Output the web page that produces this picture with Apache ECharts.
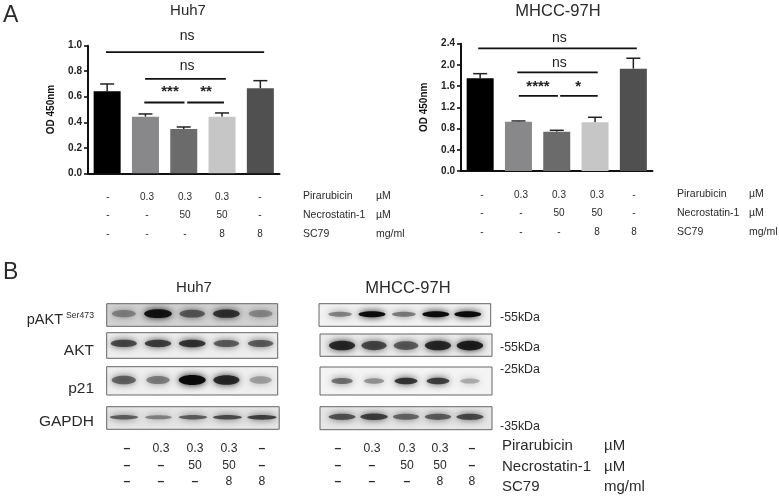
<!DOCTYPE html>
<html><head><meta charset="utf-8">
<style>html,body{margin:0;padding:0;background:#fff}#c{width:779px;height:497px;filter:blur(0.35px)}</style>
<script src="https://cdn.jsdelivr.net/npm/echarts@6/dist/echarts.min.js"></script>
</head><body><div id="c"></div>
<script>
// ---- data ----
const groups = ['Control','Pirarubicin','Pirarubicin+Nec-1','Pirarubicin+Nec-1+SC79','SC79'];
const huhMeans = [0.643,0.444,0.347,0.444,0.666];
const huhErrTop = [0.70,0.465,0.363,0.473,0.726];
const mhccMeans = [1.75,0.93,0.74,0.92,1.93];
const mhccErrTop = [1.835,0.943,0.767,1.013,2.126];
const barColors = ['#000000','#88888b','#6b6b6b','#c6c6c6','#505050'];
// significance brackets: [from group, to group, level]
const huhBrackets = [[-0.03,4.1,0.95],[0.99,3.1,0.74],[0.97,2.02,0.555],[2.09,3.05,0.555]];
const mhccBrackets = [[-0.05,4.09,2.31],[0.97,3.07,1.86],[1.01,2.03,1.415],[2.09,3.07,1.415]];
// significance text: [group position, level, text]
const huhSig = [[2.09,1.076,'ns'],[2.09,0.84,'ns'],[1.64,0.635,'***'],[2.58,0.635,'**']];
const mhccSig = [[2.07,2.51,'ns'],[2.07,2.04,'ns'],[1.51,1.58,'****'],[2.56,1.58,'*']];
const rowPirarubicin = ['-','0.3','0.3','0.3','-'];
const rowNecrostatin = ['-','-','50','50','-'];
const rowSC79 = ['-','-','-','8','8'];
const treatNames = ['Pirarubicin','Necrostatin-1','SC79'];
const treatUnits = ['µM','µM','mg/ml'];
const huhBlotPAKT = [0.35,0.95,0.6,0.8,0.3];
const huhBlotAKT = [0.7,0.75,0.8,0.6,0.6];
const huhBlotP21 = [0.55,0.4,1,0.85,0.2];
const huhBlotGAPDH = [0.6,0.4,0.6,0.7,0.75];
const mhccBlotPAKT = [0.4,1,0.45,1,1];
const mhccBlotAKT = [0.85,0.7,0.6,0.85,0.9];
const mhccBlotP21 = [0.5,0.3,0.8,0.75,0.15];
const mhccBlotGAPDH = [0.65,0.75,0.55,0.6,0.7];
const blotLabels = ['AKT','p21','GAPDH'];
const kdaLabels = ['-55kDa','-55kDa','-25kDa','-35kDa'];

// ---- assembly ----
const FONT = '"Liberation Sans", Arial, sans-serif';
const INK = '#2a2a2a';
const grid = [], xAxis = [], yAxis = [], series = [], graphic = [];

function txt(x, y, text, size, opt) {
  opt = opt || {};
  graphic.push({type:'text', x, y, silent:true, style:{
    text, fill: opt.fill || INK,
    font: (opt.weight ? opt.weight + ' ' : '') + size + 'px ' + FONT,
    textAlign: opt.align || 'center', textVerticalAlign:'middle',
    align: opt.align || 'center', verticalAlign:'middle'
  }});
}

function barPanel(left, top, height, maxV, step, means, errs, brackets, sig) {
  const g = grid.length;
  grid.push({left, top, width:191.5, height});
  xAxis.push({gridIndex:g, type:'category', data:groups, axisLabel:{show:false},
    axisTick:{alignWithLabel:true, length:5, lineStyle:{color:'#111', width:1.6}},
    axisLine:{onZero:false, lineStyle:{color:'#111', width:2}}});
  xAxis.push({gridIndex:g, type:'value', min:-0.5, max:4.5, show:false});
  yAxis.push({gridIndex:g, type:'value', min:0, max:maxV, interval:step, name:'OD 450nm',
    nameLocation:'middle', nameGap:32, nameRotate:90,
    nameTextStyle:{fontFamily:FONT, fontWeight:'bold', fontSize:10, color:'#111'},
    splitLine:{show:false},
    axisLine:{show:true, onZero:false, lineStyle:{color:'#111', width:2}},
    axisTick:{show:true, length:4, lineStyle:{color:'#111', width:1.6}},
    axisLabel:{fontFamily:FONT, fontWeight:'bold', fontSize:10, color:'#222', margin:6,
      formatter:v=>v.toFixed(1)}});
  const xCat = xAxis.length-2, xVal = xAxis.length-1, y = yAxis.length-1;
  series.push({type:'bar', xAxisIndex:xCat, yAxisIndex:y, barWidth:27, silent:true,
    data:means.map((v,i)=>({value:v, itemStyle:{color:barColors[i]}}))});
  series.push({type:'custom', xAxisIndex:xCat, yAxisIndex:y, silent:true, z:1,
    data:means.map((v,i)=>[i,v,errs[i]]),
    encode:{x:0,y:[1,2]},
    renderItem:(p,api)=>{
      const a = api.coord([api.value(0),api.value(1)]), b = api.coord([api.value(0),api.value(2)]);
      const s = {stroke:'#222', lineWidth:1.5};
      return {type:'group',children:[
        {type:'line',shape:{x1:a[0],y1:a[1],x2:b[0],y2:b[1]},style:s},
        {type:'line',shape:{x1:b[0]-7,y1:b[1],x2:b[0]+7,y2:b[1]},style:s}]};
    }});
  series.push({type:'custom', xAxisIndex:xVal, yAxisIndex:y, silent:true, z:3,
    data:brackets, encode:{x:[0,1],y:2},
    renderItem:(p,api)=>{
      const a = api.coord([api.value(0),api.value(2)]), b = api.coord([api.value(1),api.value(2)]);
      return {type:'line',shape:{x1:a[0],y1:a[1],x2:b[0],y2:b[1]},style:{stroke:'#111',lineWidth:1.8}};
    }});
  series.push({type:'custom', xAxisIndex:xVal, yAxisIndex:y, silent:true, z:3,
    data:sig, encode:{x:0,y:1},
    renderItem:(p,api)=>{
      const a = api.coord([api.value(0),api.value(1)]);
      const t = sig[p.dataIndex][2];
      return {type:'text',x:a[0],y:a[1],style:{text:t,fill:'#222',
        font:(t==='ns'?'14px ':'bold 15px ')+FONT,align:'center',verticalAlign:'middle',
        textAlign:'center',textVerticalAlign:'middle'}};
    }});
}

function blot(left, top, w, h, xMin, xMax, levels, yPos, bandH, bandW, bg) {
  const g = grid.length;
  grid.push({left, top, width:w, height:h, show:true, backgroundColor:bg, borderColor:'#666', borderWidth:1});
  xAxis.push({gridIndex:g, type:'value', min:xMin, max:xMax, show:false});
  yAxis.push({gridIndex:g, type:'value', min:0, max:1, show:false});
  series.push({type:'custom', xAxisIndex:xAxis.length-1, yAxisIndex:yAxis.length-1, silent:true, clip:true,
    data:levels.map((v,i)=>[i,v]), encode:{x:0,y:1},
    renderItem:(p,api)=>{
      const lvl = api.value(1), c = api.coord([api.value(0), yPos]);
      const shade = Math.round(125 - 120*lvl);
      const col = 'rgb('+shade+','+shade+','+shade+')';
      const rx = bandW*(0.78+0.22*lvl)/2, ry = bandH*(0.7+0.3*lvl)/2;
      return {type:'ellipse',shape:{cx:c[0],cy:c[1],rx:rx,ry:ry},
        style:{fill:col,opacity:0.35+0.6*lvl,shadowBlur:7,shadowColor:col}};
    }});
}

barPanel(88, 45.7, 127.6, 1.0, 0.2, huhMeans, huhErrTop, huhBrackets, huhSig);
barPanel(461, 43.7, 127.3, 2.4, 0.4, mhccMeans, mhccErrTop, mhccBrackets, mhccSig);

const H = [303.7,332.7,366.7,406.7], HH = [22.6,25.6,28.3,22.6];
blot(106.7,H[0],171,HH[0],-0.5,4.5,huhBlotPAKT,0.56,9,28,'#d2d2d2');
blot(106.7,H[1],171,HH[1],-0.5,4.5,huhBlotAKT,0.58,8,28,'#eeeeee');
blot(106.7,H[2],171,HH[2],-0.5,4.5,huhBlotP21,0.53,10,27,'#efefef');
blot(106.7,H[3],172.5,HH[3],-0.5,4.5,huhBlotGAPDH,0.53,5,31,'#e6e6e6');
blot(319,303.7,171.7,22.6,-0.66,4.72,mhccBlotPAKT,0.53,6,27,'#f2f2f2');
blot(320,334,172,22.3,-0.69,4.69,mhccBlotAKT,0.48,10,27,'#ececec');
blot(320,367,172,28,-0.69,4.69,mhccBlotP21,0.5,7,24,'#f4f4f4');
blot(320,406.7,172,23,-0.69,4.69,mhccBlotGAPDH,0.56,7,29,'#e6e6e6');

// panel letters and titles
txt(3,16,'A',23,{align:'left'}); txt(3,273,'B',23,{align:'left'});
txt(188,11,'Huh7',15); txt(558,11,'MHCC-97H',16.5);
txt(194,288,'Huh7',15); txt(408,288,'MHCC-97H',16.5);

// treatment tables
const rows = [rowPirarubicin,rowNecrostatin,rowSC79];
function table(xs, ys, size, dashBold) {
  rows.forEach((r,ri)=>r.forEach((t,i)=>{
    const dash = t==='-';
    txt(xs[i], ys[ri], dash&&dashBold?'–':t, size, dash&&dashBold?{weight:'bold'}:{});
  }));
}
table([108,147,185,222,260],[197,215,234],10,false);
table([482,521,559,597,634],[195,213,232],10,false);
table([127,161,195,229,262],[449,466,482],12.2,true);
table([338,372,407,440,472],[449,466,482],12.2,true);
treatNames.forEach((n,i)=>{
  txt(303,[196,215,234][i],n,10.5,{align:'left'});
  txt(376,[196,215,234][i],treatUnits[i],10.5,{align:'left'});
  txt(677,[194,213,232][i],n,10.5,{align:'left'});
  txt(749,[194,213,232][i],treatUnits[i],10.5,{align:'left'});
  txt(502,[446,467,487][i],n,15,{align:'left'});
  txt(604,[446,467,487][i],treatUnits[i],15,{align:'left'});
});

// blot labels
txt(63,320,'pAKT',14.5,{align:'right'}); txt(94,316,'Ser473',8.7,{align:'right'});
txt(94,351,blotLabels[0],15.5,{align:'right'});
txt(94,389,blotLabels[1],15.5,{align:'right'});
txt(94,422,blotLabels[2],15.5,{align:'right'});
[318,348,370,427].forEach((y,i)=>txt(500,y,kdaLabels[i],12.4,{align:'left'}));

const chart = echarts.init(document.getElementById('c'),null,{renderer:'canvas',width:779,height:497});
chart.setOption({animation:false, backgroundColor:'#fff', grid, xAxis, yAxis, series, graphic});
</script></body></html>
